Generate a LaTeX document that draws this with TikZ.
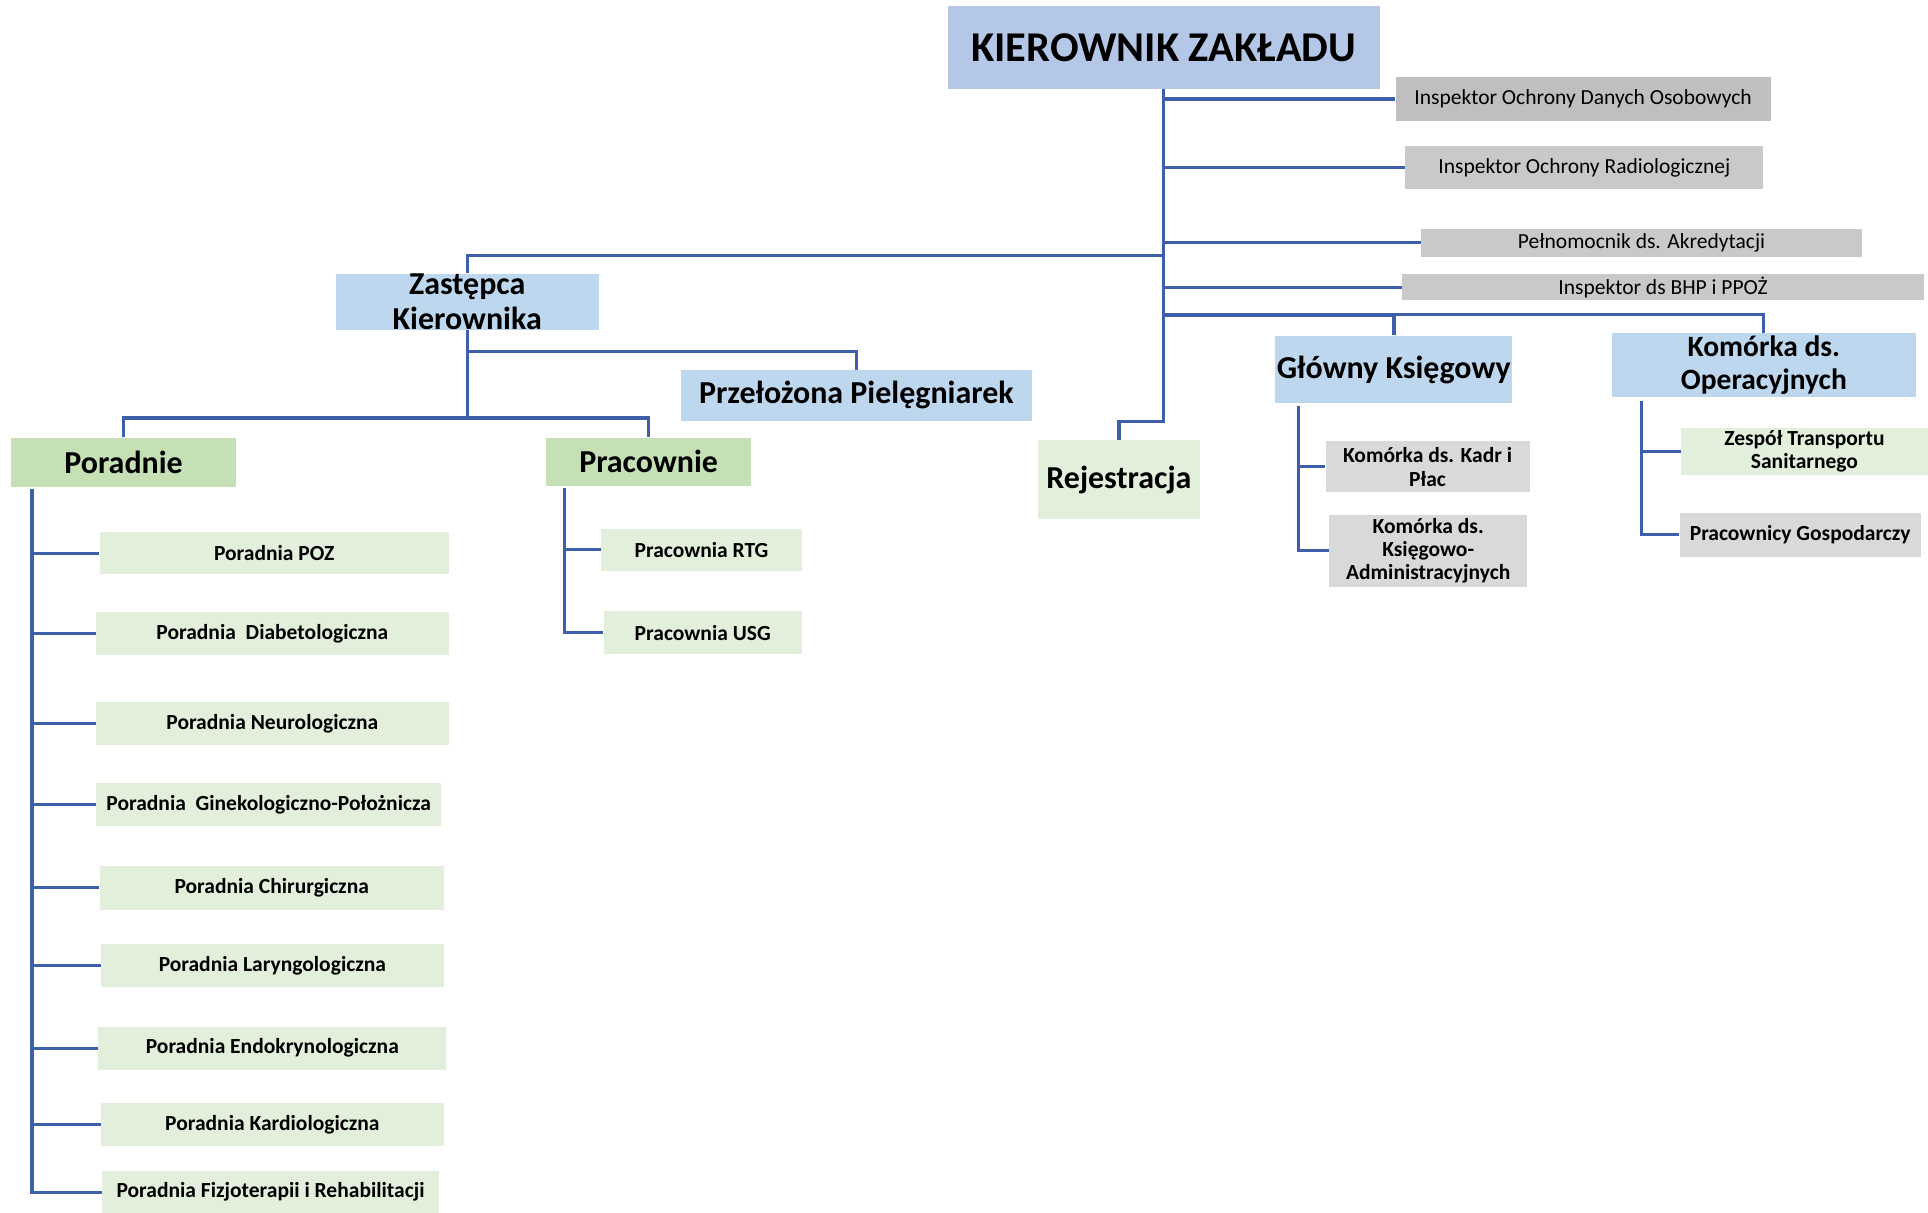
\documentclass[tikz,border=0pt]{standalone}
\usepackage{fontspec}
\setmainfont{Carlito}
\usetikzlibrary{positioning, calc}
\definecolor{cLine}{RGB}{62,96,172}
\definecolor{cTop}{RGB}{180,199,231}
\definecolor{cBlue}{RGB}{189,215,238}
\definecolor{cGreen}{RGB}{197,224,180}
\definecolor{cPale}{RGB}{226,239,218}
\definecolor{cGrayA}{RGB}{191,191,191}
\definecolor{cGrayB}{RGB}{201,201,201}
\definecolor{cGrayC}{RGB}{217,217,217}
\tikzset{
	unit/.style     ={rectangle, inner sep=0pt, align=center, text centered},
	wh/.style n args={2}{minimum width=#1pt, minimum height=#2pt},
	topbox/.style   ={unit, fill=cTop, font=\fontsize{34.5}{40}\selectfont\bfseries},
	head/.style     ={unit, fill=cBlue, font=\fontsize{26}{29}\selectfont\bfseries},
	headg/.style    ={unit, fill=cGreen, font=\fontsize{26}{29}\selectfont\bfseries},
	insp/.style     ={unit, fill=cGrayB, font=\fontsize{17.5}{20}\selectfont},
	item/.style     ={unit, fill=cPale, font=\fontsize{17.5}{19.5}\selectfont\bfseries},
	itemg/.style    ={unit, fill=cGrayC, font=\fontsize{17.5}{19.5}\selectfont\bfseries},
	conn/.style     ={draw=cLine, line width=2.6pt},
}

\begin{document}
\begin{tikzpicture}[x=1pt, y=-1pt]
	\useasboundingbox (0,0) rectangle (1568,986);
	% top level
	\node[topbox, wh={351}{67}] (kier) at (946.5,38.5) {KIEROWNIK ZAKŁADU};
	\node[insp, wh={305}{35}, fill=cGrayA] (iodo) at (1287.5,80.5) {Inspektor Ochrony Danych Osobowych};
	\node[insp, wh={291}{35}] (ior) at (1288.5,136.5) {Inspektor Ochrony Radiologicznej};
	\node[insp, wh={358}{23}] (pelm) at (1335,197.5) {Pełnomocnik ds. Akredytacji};
	\node[insp, wh={425}{21}] (bhp) at (1352.5,233.5) {Inspektor ds BHP i PPOŻ};
	% second level
	\node[head, wh={214}{45}] (zast) at (380,245.5) {Zastępca\\Kierownika};
	\node[head, wh={285}{41}] (przel) at (696.5,321.5) {Przełożona Pielęgniarek};
	\node[item, wh={132}{64}, font=\fontsize{26}{29}\selectfont\bfseries] (rej) at (910,390) {Rejestracja};
	\node[head, wh={193}{55}] (gk) at (1133.5,300.5) {Główny Księgowy};
	\node[head, wh={247}{52}, font=\fontsize{24}{27}\selectfont\bfseries] (kop) at (1434.5,297) {Komórka ds.\\Operacyjnych};
	\node[headg, wh={183}{40}] (por) at (100.5,376) {Poradnie};
	\node[headg, wh={167}{39}] (prac) at (527.5,375.5) {Pracownie};
	% poradnie
	\node[item, wh={284}{34}] (p1) at (223,450) {Poradnia POZ};
	\node[item, wh={287}{35}] (p2) at (221.5,515.5) {Poradnia~ Diabetologiczna};
	\node[item, wh={287}{35}] (p3) at (221.5,588.5) {Poradnia Neurologiczna};
	\node[item, wh={281}{35}] (p4) at (218.5,654.5) {Poradnia~ Ginekologiczno-Położnicza};
	\node[item, wh={280}{36}] (p5) at (221,722) {Poradnia Chirurgiczna};
	\node[item, wh={279}{35}] (p6) at (221.5,785.5) {Poradnia Laryngologiczna};
	\node[item, wh={283}{35}] (p7) at (221.5,852.5) {Poradnia Endokrynologiczna};
	\node[item, wh={279}{35}] (p8) at (221.5,914.5) {Poradnia Kardiologiczna};
	\node[item, wh={274}{34}] (p9) at (220,969.5) {Poradnia Fizjoterapii i Rehabilitacji};
	% pracownie
	\node[item, wh={163}{34}] (r1) at (570.5,447) {Pracownia RTG};
	\node[item, wh={161}{35}] (r2) at (571.5,514.5) {Pracownia USG};
	% ksiegowosc i operacje
	\node[itemg, wh={166}{41}] (kadr) at (1161,379.5) {Komórka ds. Kadr i\\Płac};
	\node[itemg, wh={161}{58}, font=\fontsize{17.5}{19}\selectfont\bfseries] (ksieg) at (1161.5,448) {Komórka ds.\\Księgowo-\\Administracyjnych};
	\node[item, wh={201}{38}] (zts) at (1467.5,367) {Zespół Transportu\\Sanitarnego};
	\node[itemg, wh={196}{36}] (pgosp) at (1464,435) {Pracownicy Gospodarczy};

	% connectors from the head
	\coordinate (jz) at (946.5,208);
	\coordinate (jb) at (946.5,256);
	\coordinate (trunk) at (946.5,343);
	\draw[conn] (kier.south) -- (trunk) -| (rej.north);
	\foreach \n in {iodo, ior, pelm, bhp}
		\draw[conn] (kier.south) |- (\n.west);
	\draw[conn] (jz) -| (zast.north);
	\draw[conn, line width=3.6pt] (jb) -| (gk.north);
	\draw[conn] (jb) -| (kop.north);
	% deputy
	\coordinate (jp) at (380,286);
	\coordinate (jr) at (380,340);
	\draw[conn] (zast.south) -- (jr);
	\draw[conn] (jp) -| (przel.north);
	\draw[conn] (jr) -| (por.north);
	\draw[conn] (jr) -| (prac.north);
	% lists
	\coordinate (porv) at (26,398);
	\foreach \n in {p1,p2,p3,p4,p5,p6,p7,p8,p9}
		\draw[conn] (porv) |- (\n.west);
	\coordinate (pracv) at (459,397);
	\foreach \n in {r1,r2}
		\draw[conn] (pracv) |- (\n.west);
	\coordinate (gkv) at (1056,330);
	\foreach \n in {kadr,ksieg}
		\draw[conn] (gkv) |- (\n.west);
	\coordinate (kopv) at (1335,326);
	\foreach \n in {zts,pgosp}
		\draw[conn] (kopv) |- (\n.west);
\end{tikzpicture}
\end{document}
